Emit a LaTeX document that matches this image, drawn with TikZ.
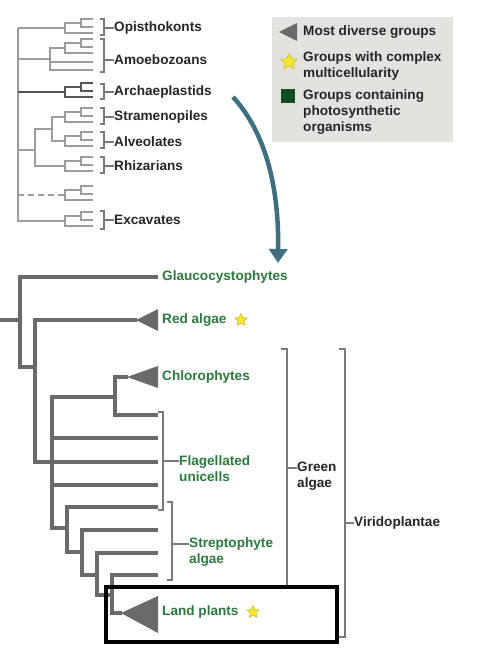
\documentclass[tikz,border=0pt]{standalone}
\usepackage{fontspec}
\setmainfont{Liberation Sans}
\usetikzlibrary{positioning}
\usetikzlibrary{shapes.geometric}
\usetikzlibrary{arrows.meta}

\definecolor{topgray}{HTML}{9C9C9C}
\definecolor{archgray}{HTML}{555555}
\definecolor{treegray}{HTML}{6A6A6C}
\definecolor{brkgray}{HTML}{7A7A7A}
\definecolor{labgreen}{HTML}{2B7A3C}
\definecolor{labblack}{HTML}{262626}
\definecolor{legendbg}{HTML}{E4E2DE}
\definecolor{arrowteal}{HTML}{3E6E80}
\definecolor{staryellow}{HTML}{F4E62C}
\definecolor{staredge}{HTML}{C9B820}
\definecolor{sqgreen}{HTML}{0F4E1F}

% peque~no clado de tres ramas (arbol superior)
\newcommand{\minicomb}[2][toptree]{%
  \draw[#1] (93,{#2-8}) -- (81,{#2-8}) -- (81,#2) -- (93,#2);
  \draw[#1] (81,{#2-4}) -- (65,{#2-4}) -- (65,{#2+6}) -- (93,{#2+6});
}

\begin{document}
\begin{tikzpicture}[x=1pt, y=-1pt, line join=miter,
    toptree/.style={draw=topgray, line width=1.4pt},
    archtree/.style={draw=archgray, line width=1.8pt},
    lowtree/.style={draw=treegray, line width=4.6pt},
    brk/.style={draw=brkgray, line width=1.1pt},
    taxon/.style={anchor=west, inner sep=0pt, align=left, text=labblack,
      font=\bfseries\fontsize{13.6}{16}\selectfont},
    grtaxon/.style={taxon, text=labgreen},
    yellowstar/.style={star, star points=5, star point ratio=2.1, inner sep=0pt,
      minimum size=13pt, fill=staryellow, draw=staredge, line width=0.5pt}]
  \useasboundingbox (0,0) rectangle (482,655);

  % Arbol superior
  \draw[toptree] (18,28) -- (18,222);
  \draw[toptree] (18,28) -- (65,28);
  \minicomb{27}
  \draw[toptree] (18,59) -- (50,59);
  \draw[toptree] (65,48) -- (50,48) -- (50,70) -- (93,70);
  \draw[toptree] (50,62) -- (93,62);
  \minicomb{47}
  \draw[archtree] (18,92) -- (65,92);
  \minicomb[archtree]{91}
  \draw[toptree] (18,150) -- (35,150);
  \draw[toptree] (65,166) -- (35,166) -- (35,129) -- (52,129);
  \draw[toptree] (65,117) -- (52,117) -- (52,141) -- (65,141);
  \minicomb{116}
  \minicomb{140}
  \minicomb{165}
  \draw[toptree, dashed, dash pattern=on 6pt off 4pt] (18,195) -- (65,195);
  \minicomb{194}
  \draw[toptree] (18,221) -- (65,221);
  \minicomb{220}

  % Nombres (arbol superior)
  \node[taxon] (opis) at (114,28) {Opisthokonts};
  \node[taxon] (amoe) at (114,60) {Amoebozoans};
  \node[taxon] (arch) at (114,92) {Archaeplastids};
  \node[taxon] (stra) at (114,117) {Stramenopiles};
  \node[taxon] (alve) at (114,142) {Alveolates};
  \node[taxon] (rhiz) at (114,166) {Rhizarians};
  \node[taxon] (exca) at (114,220) {Excavates};
  \draw[brk] (100,19) -- (104,19) -- (104,35) -- (100,35);
  \draw[brk] (104,28) -- (opis.west);
  \draw[brk] (100,39) -- (104,39) -- (104,72) -- (100,72);
  \draw[brk] (104,60) -- (amoe.west);
  \draw[brk] (100,84) -- (104,84) -- (104,99) -- (100,99);
  \draw[brk] (104,92) -- (arch.west);
  \draw[brk] (100,108) -- (104,108) -- (104,124) -- (100,124);
  \draw[brk] (104,117) -- (stra.west);
  \draw[brk] (100,132) -- (104,132) -- (104,148) -- (100,148);
  \draw[brk] (104,142) -- (alve.west);
  \draw[brk] (100,157) -- (104,157) -- (104,173) -- (100,173);
  \draw[brk] (104,166) -- (rhiz.west);
  \draw[brk] (100,211) -- (104,211) -- (104,229) -- (100,229);
  \draw[brk] (104,220) -- (exca.west);

  % Leyenda
  \fill[legendbg] (272,17) rectangle (453,142);
  \fill[treegray] (279,32) -- (297,23) -- (297,41) -- cycle;
  \node[taxon] (legtri) at (303,32) {Most diverse groups};
  \node[yellowstar, minimum size=17pt] (legstar) at (289,62) {};
  \node[taxon] (legmulti) at (303,66) {Groups with complex\\multicellularity};
  \fill[sqgreen] (281,89) rectangle (295,103);
  \node[taxon] (legphoto) at (303,112) {Groups containing\\photosynthetic\\organisms};

  % Flecha
  \coordinate (arrstart) at (233,97);
  \coordinate (arrend) at (278,263);
  \draw[arrowteal, line width=4.5pt, -{Triangle[width=18pt, length=14pt]}]
    (arrstart) .. controls (265,132) and (279,185) .. (arrend);

  % Arbol inferior
  \draw[lowtree] (0,320) -- (20,320);
  \draw[lowtree] (158,277) -- (20,277) -- (20,367) -- (35,367);
  \draw[lowtree] (137,320) -- (35,320) -- (35,462) -- (52,462);
  \fill[treegray] (136,320) -- (158,309) -- (158,331) -- cycle;
  \draw[lowtree] (128,377) -- (115,377) -- (115,415) -- (158,415);
  \fill[treegray] (127,377) -- (158,366) -- (158,388) -- cycle;
  \draw[lowtree] (115,397) -- (52,397) -- (52,528) -- (67,528);
  \draw[lowtree] (52,438) -- (158,438);
  \draw[lowtree] (52,462) -- (158,462);
  \draw[lowtree] (52,485) -- (158,485);
  \draw[lowtree] (158,507) -- (67,507) -- (67,552) -- (82,552);
  \draw[lowtree] (158,530) -- (82,530) -- (82,575) -- (97,575);
  \draw[lowtree] (158,553) -- (97,553) -- (97,595) -- (112,595);
  \draw[lowtree] (158,575) -- (112,575) -- (112,613) -- (122,613);
  \fill[treegray] (121,613) -- (158,596) -- (158,633) -- cycle;

  % Nombres (arbol inferior)
  \node[grtaxon] (glau) at (162,277) {Glaucocystophytes};
  \node[grtaxon] (reda) at (162,320) {Red algae};
  \node[yellowstar, right=10pt of reda] (redstar) {};
  \node[grtaxon] (chlo) at (162,377) {Chlorophytes};
  \node[grtaxon] (flag) at (179,469) {Flagellated\\unicells};
  \node[grtaxon] (strp) at (189,552) {Streptophyte\\algae};
  \node[grtaxon] (land) at (162,612) {Land plants};
  \node[yellowstar, right=10pt of land] (landstar) {};
  \node[taxon] (gral) at (297,476) {Green\\algae};
  \node[taxon] (viri) at (354,523) {Viridoplantae};
  \draw[brk] (158,412) -- (163,412) -- (163,510) -- (158,510);
  \draw[brk] (163,461) -- (flag.west |- 0,461);
  \draw[brk] (167,502) -- (172,502) -- (172,580) -- (167,580);
  \draw[brk] (172,544) -- (strp.west |- 0,544);
  \draw[brk] (281,349) -- (287,349) -- (287,588) -- (281,588);
  \draw[brk] (287,468) -- (gral.west |- 0,468);
  \draw[brk] (339,349) -- (345,349) -- (345,637) -- (339,637);
  \draw[brk] (345,523) -- (viri.west);

  % Recuadro
  \node[draw=black, line width=4pt, inner sep=0pt, minimum width=231pt,
    minimum height=55pt] (landbox) at (221.5,614.5) {};
\end{tikzpicture}
\end{document}
